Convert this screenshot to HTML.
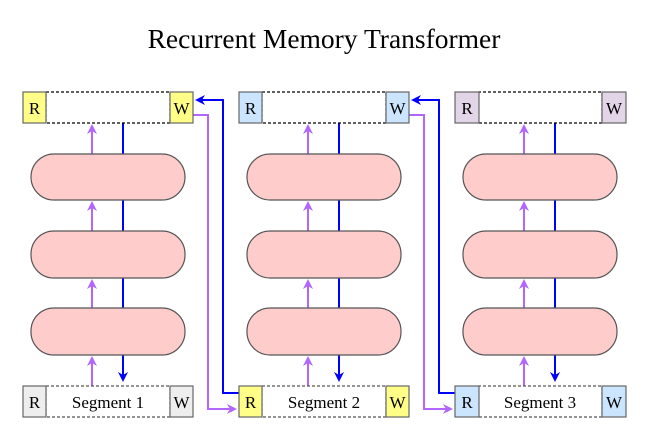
<!DOCTYPE html>
<html><head><style>html,body{margin:0;padding:0;background:#fff;}svg{display:block}</style></head>
<body>
<svg width="648" height="431" viewBox="0 0 648 431" xmlns="http://www.w3.org/2000/svg" font-family="Liberation Serif, serif">
<defs>
<marker id="ab" markerWidth="10" markerHeight="10" refX="8" refY="5" orient="auto" markerUnits="userSpaceOnUse"><path d="M0,0 L10,5 L0,10 L3,5 z" fill="#0000ff"/></marker>
<marker id="ap" markerWidth="10" markerHeight="10" refX="8" refY="5" orient="auto" markerUnits="userSpaceOnUse"><path d="M0,0 L10,5 L0,10 L3,5 z" fill="#b266ff"/></marker>
</defs>
<text x="324" y="48" font-size="27.5" text-anchor="middle">Recurrent Memory Transformer</text>

<g fill="none" stroke-width="2">
<polyline points="239,393 223,393 223,100 197,100" stroke="#0000ff" marker-end="url(#ab)"/>
<polyline points="193,115 208,115 208,409 235,409" stroke="#b266ff" marker-end="url(#ap)"/>
<polyline points="455,393 439,393 439,100 413,100" stroke="#0000ff" marker-end="url(#ab)"/>
<polyline points="409,115 424,115 424,409 451,409" stroke="#b266ff" marker-end="url(#ap)"/>
</g>

<g id="c1">
<line x1="123" y1="123" x2="123" y2="380" stroke="#0000ff" stroke-width="2" marker-end="url(#ab)"/>
<g stroke="#b266ff" stroke-width="2">
<line x1="92" y1="386" x2="92" y2="358" marker-end="url(#ap)"/>
<line x1="92" y1="308" x2="92" y2="281" marker-end="url(#ap)"/>
<line x1="92" y1="231" x2="92" y2="203" marker-end="url(#ap)"/>
<line x1="92" y1="154" x2="92" y2="126" marker-end="url(#ap)"/>
</g>
<g fill="#ffcccc" stroke="#555" stroke-width="1.2">
<rect x="31" y="154" width="154" height="46" rx="23"/>
<rect x="31" y="231" width="154" height="47" rx="23"/>
<rect x="31" y="308" width="154" height="47" rx="23"/>
</g>
</g>
<use href="#c1" x="216"/>
<use href="#c1" x="432"/>

<g stroke-width="1.2">
<rect x="46" y="92" width="124" height="31" fill="none" stroke="#000" stroke-dasharray="3,2"/>
<rect x="262" y="92" width="124" height="31" fill="none" stroke="#000" stroke-dasharray="3,2"/>
<rect x="478" y="92" width="124" height="31" fill="none" stroke="#000" stroke-dasharray="3,2"/>
<rect x="46" y="386" width="124" height="31" fill="none" stroke="#555" stroke-dasharray="3,2"/>
<rect x="262" y="386" width="124" height="31" fill="none" stroke="#555" stroke-dasharray="3,2"/>
<rect x="478" y="386" width="124" height="31" fill="none" stroke="#555" stroke-dasharray="3,2"/>
<g stroke="#666">
<rect x="23" y="92" width="23" height="31" fill="#ffff88"/>
<rect x="170" y="92" width="23" height="31" fill="#ffff88"/>
<rect x="239" y="92" width="23" height="31" fill="#cce5ff"/>
<rect x="386" y="92" width="23" height="31" fill="#cce5ff"/>
<rect x="455" y="92" width="24" height="31" fill="#e1d5e7"/>
<rect x="602" y="92" width="24" height="31" fill="#e1d5e7"/>
<rect x="23" y="386" width="23" height="31" fill="#eeeeee"/>
<rect x="170" y="386" width="23" height="31" fill="#eeeeee"/>
<rect x="239" y="386" width="23" height="31" fill="#ffff88"/>
<rect x="386" y="386" width="23" height="31" fill="#ffff88"/>
<rect x="455" y="386" width="24" height="31" fill="#cce5ff"/>
<rect x="602" y="386" width="24" height="31" fill="#cce5ff"/>
</g>
</g>
<g font-size="17" text-anchor="middle">
<text x="34.5" y="114">R</text><text x="181.5" y="114">W</text>
<text x="250.5" y="114">R</text><text x="397.5" y="114">W</text>
<text x="467" y="114">R</text><text x="614" y="114">W</text>
<text x="34.5" y="408">R</text><text x="181.5" y="408">W</text>
<text x="250.5" y="408">R</text><text x="397.5" y="408">W</text>
<text x="467" y="408">R</text><text x="614" y="408">W</text>
<text x="108" y="408">Segment 1</text>
<text x="324" y="408">Segment 2</text>
<text x="540" y="408">Segment 3</text>
</g>
</svg>
</body></html>
